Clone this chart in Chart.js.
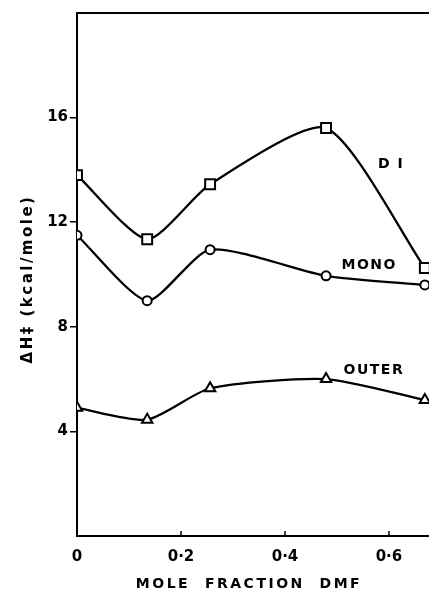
<!DOCTYPE html>
<html>
<head>
<meta charset="utf-8">
<script src="https://cdn.jsdelivr.net/npm/chart.js@4"></script>
<style>
  html, body { margin: 0; padding: 0; background: #fff; }
  #wrap { width: 429px; height: 596px; }
</style>
</head>
<body>
<div id="wrap"><canvas id="chart" width="429" height="596"></canvas></div>
<script>
// ===== DATA =====
const moleFraction = [0, 0.135, 0.256, 0.479, 0.669];
const diValues = [13.8, 11.35, 13.45, 15.6, 10.25];
const monoValues = [11.5, 9.0, 10.95, 9.95, 9.6];
const outerValues = [4.9, 4.45, 5.65, 6.0, 5.2];
const xTickLabels = { 0: '0', 0.2: '0·2', 0.4: '0·4', 0.6: '0·6' };
const yTickLabels = [4, 8, 12, 16];

const seriesNames = ['DI', 'MONO', 'OUTER'];
// label anchor in data units (x, y)
const seriesLabelAt = [[0.604, 14.2], [0.562, 10.35], [0.571, 6.35]];

const FONT = '"DejaVu Sans", "Liberation Sans", Arial, sans-serif';

function toPoints(xs, ys) {
    return xs.map((x, i) => ({ x: x, y: ys[i] }));
}

function curve(label, values, style, radius) {
    return {
        label: label,
        data: toPoints(moleFraction, values),
        borderColor: '#000',
        borderWidth: 2.3,
        backgroundColor: '#fff',
        pointStyle: style,
        pointRadius: radius,
        pointBorderWidth: 2,
        pointBackgroundColor: '#fff',
        pointBorderColor: '#000',
        tension: 0.22
    };
}

// small dot in the middle of every marker
function centreDots(values) {
    return {
        data: toPoints(moleFraction, values),
        showLine: false,
        pointStyle: 'circle',
        pointRadius: 1,
        pointBorderWidth: 0,
        pointBackgroundColor: '#000'
    };
}

// ===== PLUGIN: titles, inner x ticks, curve labels =====
const decorations = {
    id: 'decorations',
    afterDraw(chart) {
        const ctx = chart.ctx;
        const xs = chart.scales.x, ys = chart.scales.y;
        const area = chart.chartArea;
        ctx.save();
        ctx.fillStyle = '#000';
        ctx.strokeStyle = '#000';

        // frame: top border
        ctx.lineWidth = 2;
        ctx.beginPath();
        ctx.moveTo(area.left, area.top);
        ctx.lineTo(area.right, area.top);
        ctx.stroke();

        // inner tick marks on x axis
        ctx.lineWidth = 1.5;
        [0.2, 0.4, 0.6].forEach(v => {
            const px = xs.getPixelForValue(v);
            ctx.beginPath();
            ctx.moveTo(px, area.bottom);
            ctx.lineTo(px, area.bottom - 5);
            ctx.stroke();
        });

        ctx.font = 'bold 14px ' + FONT;
        ctx.textBaseline = 'middle';
        ctx.textAlign = 'center';

        // curve labels
        ctx.letterSpacing = '1.5px';
        seriesNames.forEach((name, i) => {
            const txt = name === 'DI' ? 'D I' : name;
            ctx.fillText(txt, xs.getPixelForValue(seriesLabelAt[i][0]), ys.getPixelForValue(seriesLabelAt[i][1]));
        });

        // x title
        ctx.letterSpacing = '2.5px';
        ctx.fillText('MOLE  FRACTION  DMF', 249, 584);

        // y title
        ctx.translate(28, 279);
        ctx.rotate(-Math.PI / 2);
        ctx.font = 'bold 15px ' + FONT;
        ctx.letterSpacing = '2.5px';
        ctx.fillText('ΔH‡ (kcal/mole)', 0, 0);
        ctx.restore();
    }
};

new Chart(document.getElementById('chart'), {
    type: 'line',
    data: {
        datasets: [
            curve('DI', diValues, 'rect', 7),
            curve('MONO', monoValues, 'circle', 4.5),
            curve('OUTER', outerValues, 'triangle', 6),
            centreDots(diValues),
            centreDots(monoValues),
            centreDots(outerValues)
        ]
    },
    options: {
        responsive: false,
        animation: false,
        layout: { autoPadding: false, padding: { top: 13, right: 0, left: 0, bottom: 0 } },
        plugins: {
            legend: { display: false },
            tooltip: { enabled: false }
        },
        scales: {
            x: {
                type: 'linear',
                min: 0,
                max: 0.677,
                afterFit: s => { s.height = 60; },
                afterBuildTicks: s => {
                    s.ticks = [0, 0.2, 0.4, 0.6].map(v => ({ value: v }));
                },
                border: { display: true, color: '#000', width: 2 },
                grid: { display: false },
                ticks: {
                    color: '#000',
                    padding: 4,
                    maxRotation: 0,
                    font: { family: FONT, size: 15, weight: 'bold' },
                    callback: v => xTickLabels[Math.round(v * 10) / 10]
                }
            },
            y: {
                min: 0,
                max: 20,
                afterFit: s => { s.width = 77; },
                afterBuildTicks: s => {
                    s.ticks = yTickLabels.map(v => ({ value: v }));
                },
                border: { display: true, color: '#000', width: 2 },
                grid: {
                    drawOnChartArea: false,
                    drawTicks: true,
                    tickLength: 7,
                    color: '#000',
                    lineWidth: 1.5
                },
                ticks: {
                    color: '#000',
                    padding: 2,
                    font: { family: FONT, size: 15, weight: 'bold' },
                    callback: v => String(v)
                }
            }
        }
    },
    plugins: [decorations]
});
</script>
</body>
</html>
